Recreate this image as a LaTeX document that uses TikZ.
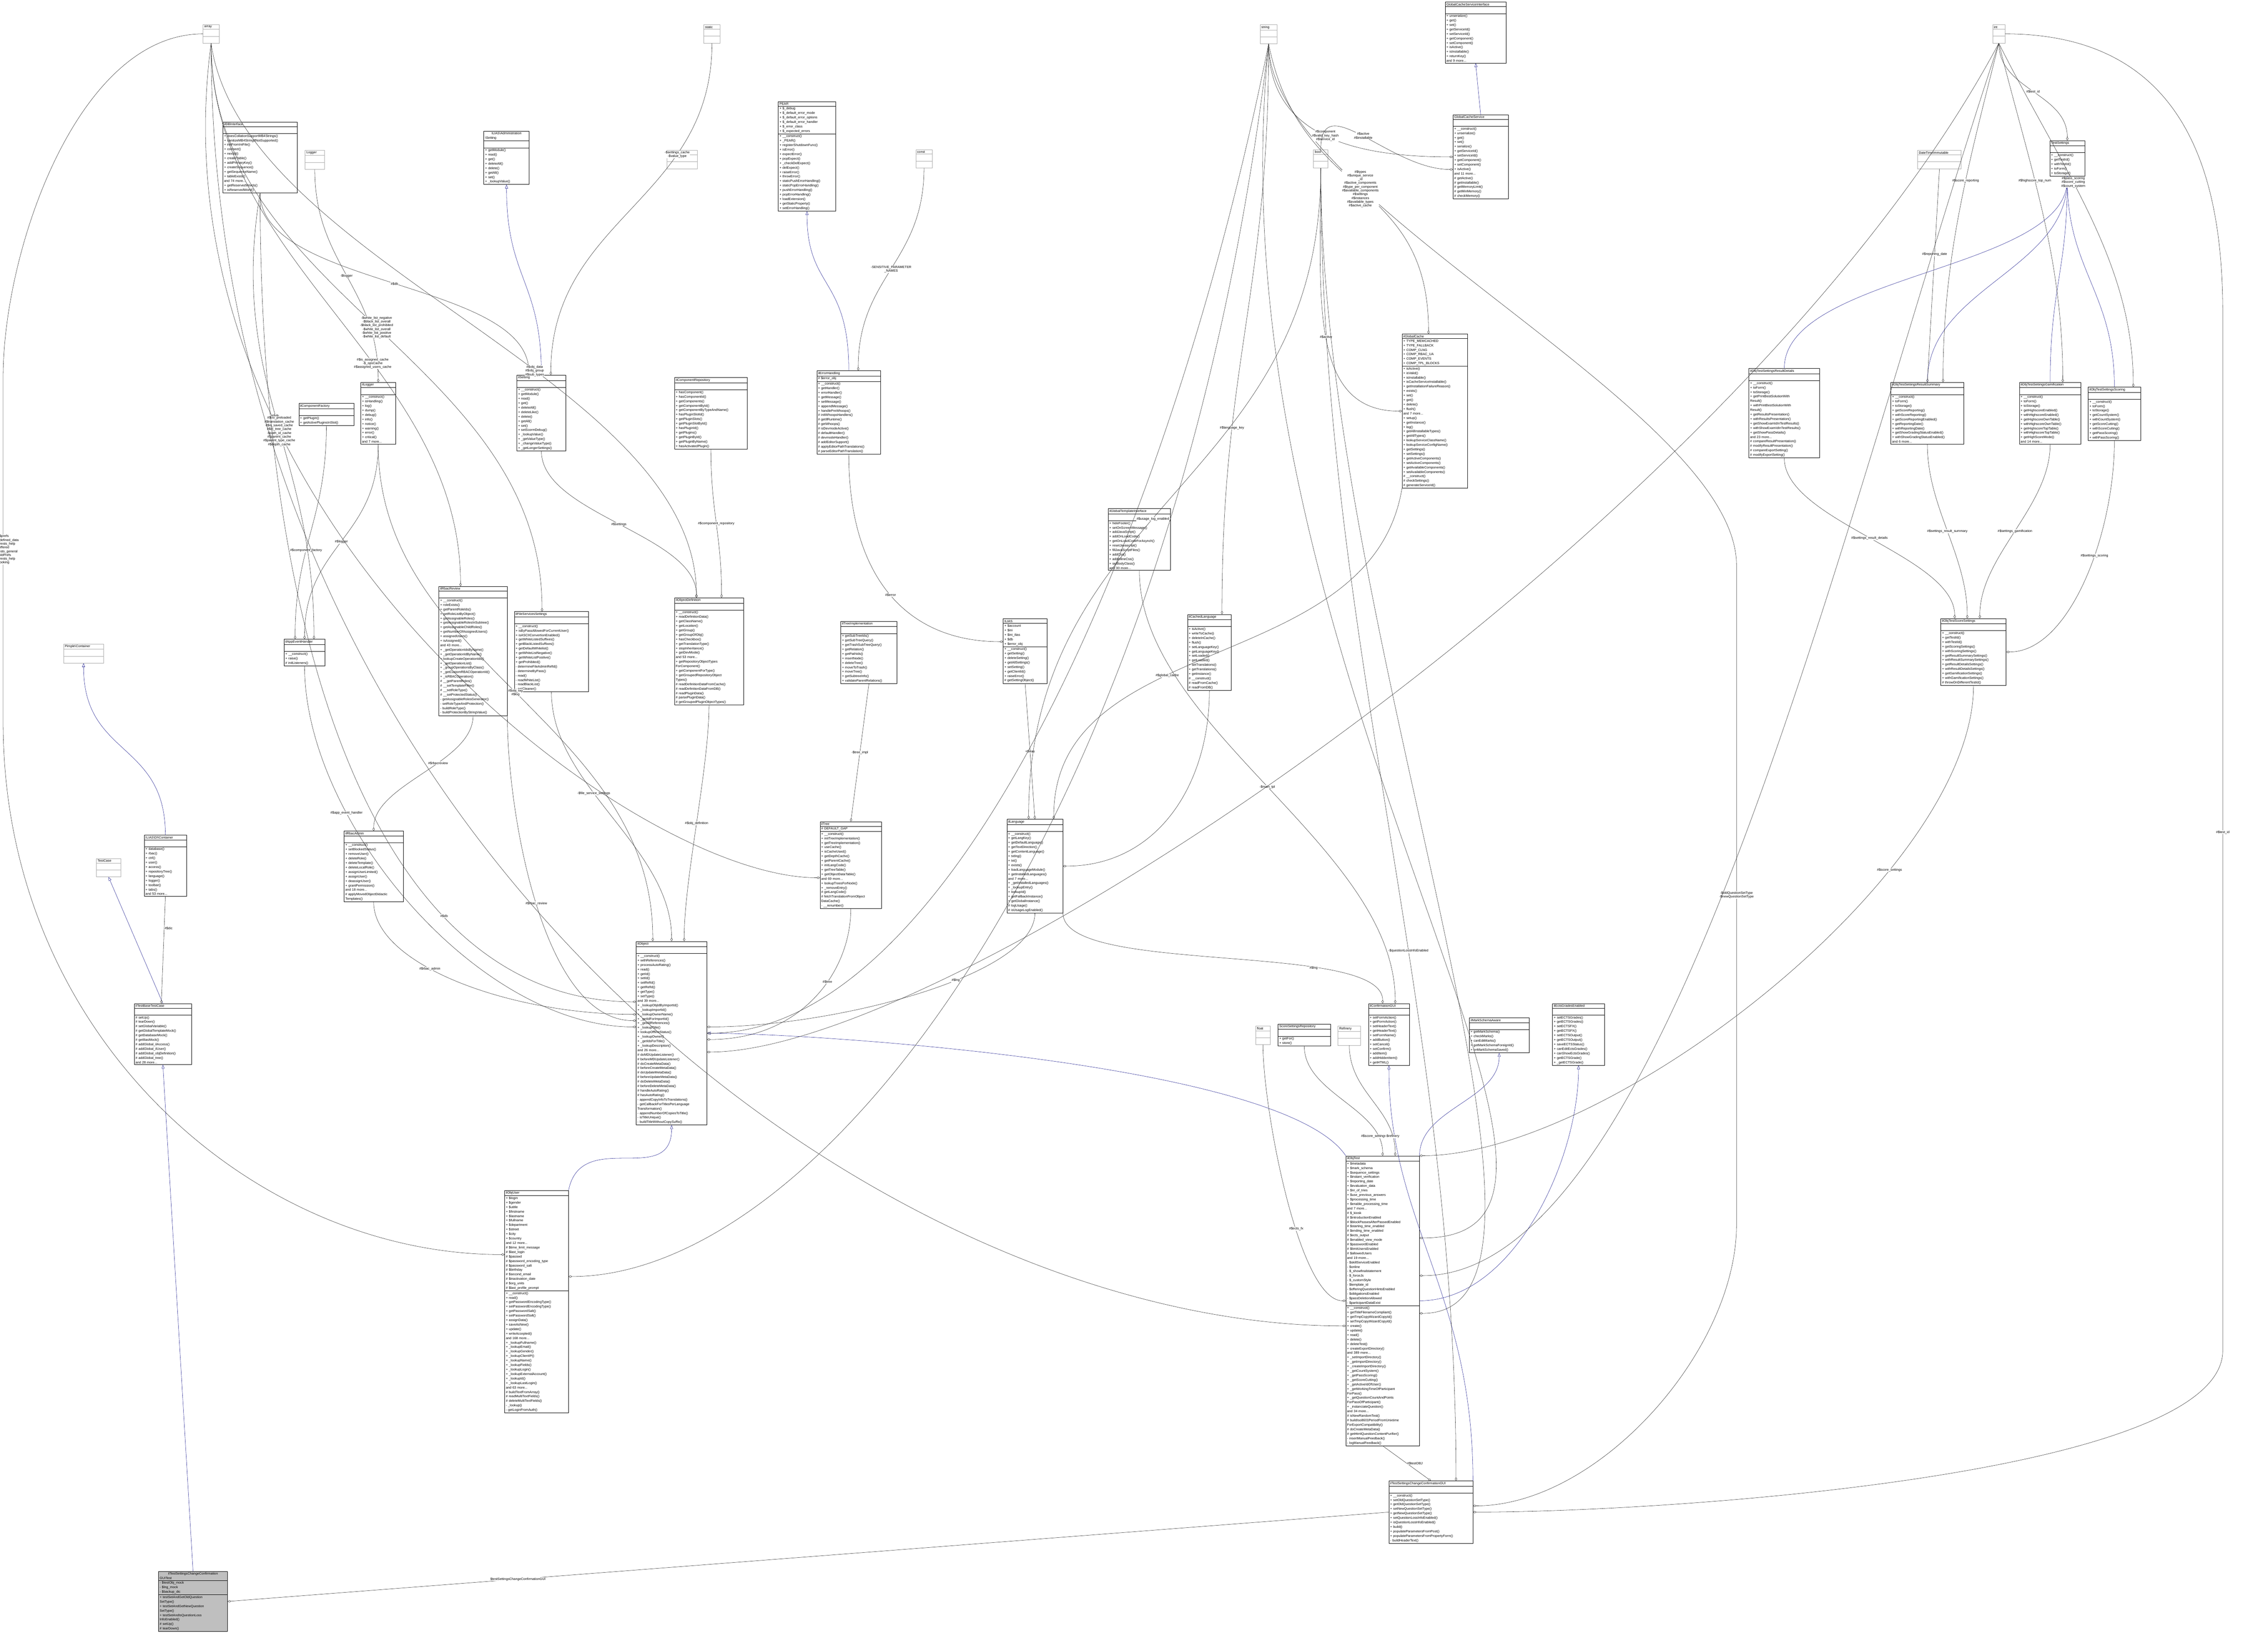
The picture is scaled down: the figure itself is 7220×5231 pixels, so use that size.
\documentclass[tikz,border=0pt]{standalone}
\usepackage{fontspec}
\setmainfont{Liberation Sans}
\usepackage{tikz}
\usetikzlibrary{shapes.multipart,arrows.meta}
\definecolor{inhblue}{RGB}{25,25,140}
\definecolor{leafgray}{RGB}{170,170,170}
\definecolor{focusgray}{RGB}{191,191,191}
\tikzset{
  cls/.style={draw=black, line width=1pt, rectangle split, rectangle split parts=3,
    anchor=north west, inner xsep=4pt, inner ysep=3pt, fill=white,
    font=\fontsize{10.5}{14.3}\selectfont},
  leaf/.style={cls, draw=leafgray},
  focus/.style={cls, fill=focusgray},
  use/.style={draw=black!85, line width=0.8pt, -{Diamond[open,length=11pt,width=7pt]}},
  inh/.style={draw=inhblue, line width=0.8pt, -{Triangle[open,length=12pt,width=9pt]}},
  lbl/.style={font=\fontsize{10.5}{12}\selectfont, align=center, fill=white, inner sep=1pt}
}
\newcommand{\emp}{\rule{0pt}{15pt}}
\begin{document}
\begin{tikzpicture}[x=1pt,y=1pt,yscale=-1,xscale=1]
\useasboundingbox (0,0) rectangle (7220,5231);

% Type nodes
\node[leaf, text width=43] (arr) at (646,78) {\centering array\nodepart{second}\emp\nodepart{third}\emp};
\node[leaf, text width=44] (stat) at (2240,78) {\centering static\nodepart{second}\emp\nodepart{third}\emp};
\node[leaf, text width=46] (str) at (4011,78) {\centering string\nodepart{second}\emp\nodepart{third}\emp};
\node[leaf, text width=31] (intt) at (6343,78) {\centering int\nodepart{second}\emp\nodepart{third}\emp};
\node[leaf, text width=44] (cnst) at (2915,476) {\centering const\nodepart{second}\emp\nodepart{third}\emp};
\node[leaf, text width=38] (boolt) at (4181,476) {\centering bool\nodepart{second}\emp\nodepart{third}\emp};
\node[leaf, text width=53] (lgr) at (971,478) {\centering Logger\nodepart{second}\emp\nodepart{third}\emp};
\node[leaf, text width=89] (runif) at (2122,478) {\centering RunInterface\nodepart{second}\emp\nodepart{third}\emp};
\node[leaf, text width=131] (dti) at (6104,478) {\centering DateTimeImmutable\nodepart{second}\emp\nodepart{third}\emp};
\node[leaf, text width=119] (pimple) at (202,2050) {\centering Pimple\textbackslash Container\nodepart{second}\emp\nodepart{third}\emp};
\node[leaf, text width=70] (tcase) at (306,2733) {\centering TestCase\nodepart{second}\emp\nodepart{third}\emp};
\node[leaf, text width=38] (flt) at (3997,3267) {\centering float\nodepart{second}\emp\nodepart{third}\emp};
\node[leaf, text width=64] (refin) at (4259,3267) {\centering Refinery\nodepart{second}\emp\nodepart{third}\emp};

% Class nodes, top rows
\node[cls, text width=229] (dbi) at (709,388) {\centering ilDBInterface\nodepart{second}\emp\nodepart{third}\raggedright
+ doesCollationSupportMB4Strings()\\+ sanitizeMB4StringIfNotSupported()\\+ initFromIniFile()\\+ connect()\\+ nextId()\\+ createTable()\\+ addPrimaryKey()\\+ createSequence()\\+ getSequenceName()\\+ tableExists()\\and 74 more...\\+ getReservedWords()\\+ isReservedWord()};
\node[cls, text width=136] (admset) at (1540,417) {\centering ILIAS\textbackslash Administration\\\textbackslash Setting\nodepart{second}\emp\nodepart{third}\raggedright
+ getModule()\\+ read()\\+ get()\\+ deleteAll()\\+ delete()\\+ getAll()\\+ set()\\+ \_lookupValue()};
\node[cls, text width=175] (pear) at (2477,323) {\centering PEAR\nodepart{second}\raggedright
+ \$\_debug\\+ \$\_default\_error\_mode\\+ \$\_default\_error\_options\\+ \$\_default\_error\_handler\\+ \$\_error\_class\\+ \$\_expected\_errors\nodepart{third}\raggedright
+ \_\_construct()\\+ \_PEAR()\\+ registerShutdownFunc()\\+ isError()\\+ expectError()\\+ popExpect()\\+ \_checkDelExpect()\\+ delExpect()\\+ raiseError()\\+ throwError()\\+ staticPushErrorHandling()\\+ staticPopErrorHandling()\\+ pushErrorHandling()\\+ popErrorHandling()\\+ loadExtension()\\+ getStaticProperty()\\+ setErrorHandling()};
\node[cls, text width=186] (gcsi) at (4600,6) {\centering GlobalCacheServiceInterface\nodepart{second}\emp\nodepart{third}\raggedright
+ unserialize()\\+ get()\\+ set()\\+ getServiceId()\\+ setServiceId()\\+ getComponent()\\+ setComponent()\\+ isActive()\\+ isInstallable()\\+ returnKey()\\and 9 more...};
\node[cls, text width=168] (gcs) at (4625,365) {\centering GlobalCacheService\nodepart{second}\emp\nodepart{third}\raggedright
+ \_\_construct()\\+ unserialize()\\+ get()\\+ set()\\+ serialize()\\+ getServiceId()\\+ setServiceId()\\+ getComponent()\\+ setComponent()\\+ isActive()\\and 11 more...\\\# getActive()\\\# getInstallable()\\\# getMemoryLimit()\\\# getMinMemory()\\\# checkMemory()};
\node[cls, text width=103] (tset) at (6525,447) {\centering TestSettings\nodepart{second}\emp\nodepart{third}\raggedright
+ \_\_construct()\\+ getTestId()\\+ withTestId()\\+ toForm()\\+ toStorage()};

\node[cls, text width=103] (illogger) at (1148,1217) {\centering ilLogger\nodepart{second}\emp\nodepart{third}\raggedright
+ \_\_construct()\\+ isHandling()\\+ log()\\+ dump()\\+ debug()\\+ info()\\+ notice()\\+ warning()\\+ error()\\+ critical()\\and 7 more...};
\node[cls, text width=167] (compfac) at (951,1284) {\centering ilComponentFactory\nodepart{second}\emp\nodepart{third}\raggedright
+ getPlugin()\\+ getActivePluginsInSlot()};
\node[cls, text width=148] (setting) at (1645,1194) {\centering ilSetting\nodepart{second}\emp\nodepart{third}\raggedright
+ \_\_construct()\\+ getModule()\\+ read()\\+ get()\\+ deleteAll()\\+ deleteLike()\\+ delete()\\+ getAll()\\+ set()\\+ setScormDebug()\\+ \_lookupValue()\\+ \_getValueType()\\+ \_changeValueType()\\+ \_getLongerSettings()};
\node[cls, text width=223] (comprepo) at (2147,1202) {\centering ilComponentRepository\nodepart{second}\emp\nodepart{third}\raggedright
+ hasComponent()\\+ hasComponentId()\\+ getComponents()\\+ getComponentById()\\+ getComponentByTypeAndName()\\+ hasPluginSlotId()\\+ getPluginSlots()\\+ getPluginSlotById()\\+ hasPluginId()\\+ getPlugins()\\+ getPluginById()\\+ getPluginByName()\\+ hasActivatedPlugin()};
\node[cls, text width=195] (errh) at (2600,1180) {\centering ilErrorHandling\nodepart{second}\raggedright \# \$error\_obj\nodepart{third}\raggedright
+ \_\_construct()\\+ getHandler()\\+ errorHandler()\\+ getMessage()\\+ setMessage()\\+ appendMessage()\\+ handlePreWhoops()\\\# initWhoopsHandlers()\\\# getIlRuntime()\\\# getWhoops()\\\# isDevmodeActive()\\\# defaultHandler()\\\# devmodeHandler()\\\# addEditorSupport()\\\# applyEditorPathTranslations()\\\# parseEditorPathTranslation()};
\node[cls, text width=191] (gtpl) at (3527,1619) {\centering ilGlobalTemplateInterface\nodepart{second}\emp\nodepart{third}\raggedright
+ hideFooter()\\+ setOnScreenMessage()\\+ addJavaScript()\\+ addOnLoadCode()\\+ getOnLoadCodeForAsynch()\\+ resetJavascript()\\+ fillJavaScriptFiles()\\+ addCss()\\+ addInlineCss()\\+ setBodyClass()\\and 30 more...};
\node[cls, text width=200] (gcache) at (4463,1063) {\centering ilGlobalCache\nodepart{second}\raggedright
+ TYPE\_MEMCACHED\\+ TYPE\_FALLBACK\\+ COMP\_CLNG\\+ COMP\_RBAC\_UA\\+ COMP\_EVENTS\\+ COMP\_TPL\_BLOCKS\nodepart{third}\raggedright
+ isActive()\\+ isValid()\\+ isInstallable()\\+ isCacheServiceInstallable()\\+ getInstallationFailureReason()\\+ exists()\\+ set()\\+ get()\\+ delete()\\+ flush()\\and 7 more...\\+ setup()\\+ getInstance()\\+ log()\\+ getAllInstallableTypes()\\+ getAllTypes()\\+ lookupServiceClassName()\\+ lookupServiceConfigName()\\+ getSettings()\\+ setSettings()\\+ getActiveComponents()\\+ setActiveComponents()\\+ getAvailableComponents()\\+ setAvailableComponents()\\\# \_\_construct()\\\# checkSettings()\\\# generateServiceId()};
\node[cls, text width=217] (resdet) at (5567,1173) {\centering ilObjTestSettingsResultDetails\nodepart{second}\emp\nodepart{third}\raggedright
+ \_\_construct()\\+ toForm()\\+ toStorage()\\+ getPrintBestSolutionWith\\Result()\\+ withPrintBestSolutionWith\\Result()\\+ getResultsPresentation()\\+ withResultsPresentation()\\+ getShowExamIdInTestResults()\\+ withShowExamIdInTestResults()\\+ getShowPassDetails()\\and 23 more...\\\# compareResultPresentation()\\\# modifyResultPresentation()\\\# compareExportSetting()\\\# modifyExportSetting()};
\node[cls, text width=224] (ressum) at (6019,1217) {\centering ilObjTestSettingsResultSummary\nodepart{second}\emp\nodepart{third}\raggedright
+ \_\_construct()\\+ toForm()\\+ toStorage()\\+ getScoreReporting()\\+ withScoreReporting()\\+ getScoreReportingEnabled()\\+ getReportingDate()\\+ withReportingDate()\\+ getShowGradingStatusEnabled()\\+ withShowGradingStatusEnabled()\\and 6 more...};
\node[cls, text width=188] (gamif) at (6428,1217) {\centering ilObjTestSettingsGamification\nodepart{second}\emp\nodepart{third}\raggedright
+ \_\_construct()\\+ toForm()\\+ toStorage()\\+ getHighscoreEnabled()\\+ withHighscoreEnabled()\\+ getHighscoreOwnTable()\\+ withHighscoreOwnTable()\\+ getHighscoreTopTable()\\+ withHighscoreTopTable()\\+ getHighScoreMode()\\and 14 more...};
\node[cls, text width=159] (scoring) at (6647,1232) {\centering ilObjTestSettingsScoring\nodepart{second}\emp\nodepart{third}\raggedright
+ \_\_construct()\\+ toForm()\\+ toStorage()\\+ getCountSystem()\\+ withCountSystem()\\+ getScoreCutting()\\+ withScoreCutting()\\+ getPassScoring()\\+ withPassScoring()};

% Middle rows
\node[cls, text width=122] (appev) at (904,2035) {\centering ilAppEventHandler\nodepart{second}\emp\nodepart{third}\raggedright
+ \_\_construct()\\+ raise()\\\# initListeners()};
\node[cls, text width=209] (rbacrev) at (1397,1867) {\centering ilRbacReview\nodepart{second}\emp\nodepart{third}\raggedright
+ \_\_construct()\\+ roleExists()\\+ getParentRoleIds()\\+ getRoleListByObject()\\+ getAssignableRoles()\\+ getAssignableRolesInSubtree()\\+ getAssignableChildRoles()\\+ getNumberOfAssignedUsers()\\+ assignedUsers()\\+ isAssigned()\\and 43 more...\\+ \_getOperationIdsByName()\\+ \_getOperationIdByName()\\+ lookupCreateOperationIds()\\+ \_getOperationList()\\+ \_groupOperationsByClass()\\+ \_getCustomRBACOperationId()\\+ \_isRBACOperation()\\\# \_\_getParentRoles()\\\# \_\_setTemplateFilter()\\\# \_\_setRoleType()\\\# \_\_setProtectedStatus()\\- getAssignableRolesGenerator()\\- setRoleTypeAndProtection()\\- buildRoleType()\\- buildProtectionByStringValue()};
\node[cls, text width=228] (filesrv) at (1637,1947) {\centering ilFileServicesSettings\nodepart{second}\emp\nodepart{third}\raggedright
+ \_\_construct()\\+ isByPassAllowedForCurrentUser()\\+ isASCIIConvertionEnabled()\\+ getWhiteListedSuffixes()\\+ getBlackListedSuffixes()\\+ getDefaultWhitelist()\\+ getWhiteListNegative()\\+ getWhiteListPositive()\\+ getProhibited()\\- determineFileAdminRefId()\\- determineByPass()\\- read()\\- readWhiteList()\\- readBlackList()\\- getCleaner()};
\node[cls, text width=211] (objdef) at (2147,1903) {\centering ilObjectDefinition\nodepart{second}\emp\nodepart{third}\raggedright
+ \_\_construct()\\+ readDefinitionData()\\+ getClassName()\\+ getLocation()\\+ getGroup()\\+ getGroupOfObj()\\+ hasCheckbox()\\+ getTranslationType()\\+ stopInheritance()\\+ getDevMode()\\and 53 more...\\+ getRepositoryObjectTypes\\ForComponent()\\+ getComponentForType()\\+ getGroupedRepositoryObject\\Types()\\\# readDefinitionDataFromCache()\\\# readDefinitionDataFromDB()\\\# readPluginData()\\\# parsePluginData()\\\# getGroupedPluginObjectTypes()};
\node[cls, text width=171] (treeimpl) at (2676,1978) {\centering ilTreeImplementation\nodepart{second}\emp\nodepart{third}\raggedright
+ getSubTreeIds()\\+ getSubTreeQuery()\\+ getTrashSubTreeQuery()\\+ getRelation()\\+ getPathIds()\\+ insertNode()\\+ deleteTree()\\+ moveToTrash()\\+ moveTree()\\+ getSubtreeInfo()\\+ validateParentRelations()};
\node[cls, text width=132] (ilias) at (3193,1970) {\centering ILIAS\nodepart{second}\raggedright
+ \$account\\+ \$ini\\+ \$ini\_ilias\\+ \$db\\+ \$error\_obj\nodepart{third}\raggedright
+ \_\_construct()\\+ getSetting()\\+ deleteSetting()\\+ getAllSettings()\\+ setSetting()\\+ getClientId()\\+ raiseError()\\\# getSettingObject()};
\node[cls, text width=131] (cachedlng) at (3780,1956) {\centering ilCachedLanguage\nodepart{second}\emp\nodepart{third}\raggedright
+ isActive()\\+ writeToCache()\\+ deleteInCache()\\+ flush()\\+ setLanguageKey()\\+ getLanguageKey()\\+ setLoaded()\\+ getLoaded()\\+ setTranslations()\\+ getTranslations()\\+ getInstance()\\\# \_\_construct()\\\# readFromCache()\\\# readFromDB()};
\node[cls, text width=200] (scoreset) at (6178,1969) {\centering ilObjTestScoreSettings\nodepart{second}\emp\nodepart{third}\raggedright
+ \_\_construct()\\+ getTestId()\\+ withTestId()\\+ getScoringSettings()\\+ withScoringSettings()\\+ getResultSummarySettings()\\+ withResultSummarySettings()\\+ getResultDetailsSettings()\\+ withResultDetailsSettings()\\+ getGamificationSettings()\\+ withGamificationSettings()\\\# throwOnDifferentTestId()};

\node[cls, text width=126] (dic) at (459,2659) {\centering ILIAS\textbackslash DI\textbackslash Container\nodepart{second}\emp\nodepart{third}\raggedright
+ database()\\+ rbac()\\+ ctrl()\\+ user()\\+ access()\\+ repositoryTree()\\+ language()\\+ logger()\\+ toolbar()\\+ tabs()\\and 53 more...};
\node[cls, text width=180] (rbacadm) at (1095,2646) {\centering ilRbacAdmin\nodepart{second}\emp\nodepart{third}\raggedright
+ \_\_construct()\\+ setBlockedStatus()\\+ removeUser()\\+ deleteRole()\\+ deleteTemplate()\\+ deleteLocalRole()\\+ assignUserLimited()\\+ assignUser()\\+ deassignUser()\\+ grantPermission()\\and 18 more...\\\# applyMovedObjectDidactic\\Templates()};
\node[cls, text width=188] (iltree) at (2610,2616) {\centering ilTree\nodepart{second}\raggedright \# DEFAULT\_GAP\nodepart{third}\raggedright
+ \_\_construct()\\+ initTreeImplementation()\\+ getTreeImplementation()\\+ useCache()\\+ isCacheUsed()\\+ getDepthCache()\\+ getParentCache()\\+ initLangCode()\\+ getTreeTable()\\+ getObjectDataTable()\\and 69 more...\\+ lookupTreesForNode()\\+ \_removeEntry()\\\# getLangCode()\\\# fetchTranslationFromObject\\DataCache()\\- \_\_renumber()};
\node[cls, text width=170] (illng) at (3205,2608) {\centering ilLanguage\nodepart{second}\emp\nodepart{third}\raggedright
+ \_\_construct()\\+ getLangKey()\\+ getDefaultLanguage()\\+ getTextDirection()\\+ getContentLanguage()\\+ txtlng()\\+ txt()\\+ exists()\\+ loadLanguageModule()\\+ getInstalledLanguages()\\and 7 more...\\+ \_getInstalledLanguages()\\+ \_lookupEntry()\\+ lookupId()\\+ getFallbackInstance()\\+ getGlobalInstance()\\\# logUsage()\\\# isUsageLogEnabled()};
\node[cls, text width=217] (ilobj) at (2025,2997) {\centering ilObject\nodepart{second}\emp\nodepart{third}\raggedright
+ \_\_construct()\\+ withReferences()\\+ processAutoRating()\\+ read()\\+ getId()\\+ setId()\\+ setRefId()\\+ getRefId()\\+ getType()\\+ setType()\\and 39 more...\\+ \_lookupObjIdByImportId()\\+ \_lookupImportId()\\+ \_lookupOwnerName()\\+ \_getIdForImportId()\\+ \_getAllReferences()\\+ \_lookupTitle()\\+ lookupOfflineStatus()\\+ \_lookupOwner()\\+ \_getIdsForTitle()\\+ \_lookupDescription()\\and 26 more...\\\# doMDUpdateListener()\\\# beforeMDUpdateListener()\\\# doCreateMetaData()\\\# beforeCreateMetaData()\\\# doUpdateMetaData()\\\# beforeUpdateMetaData()\\\# doDeleteMetaData()\\\# beforeDeleteMetaData()\\\# handleAutoRating()\\\# hasAutoRating()\\- appendCopyInfoToTranslations()\\- getCallbackForTitlesPerLanguage\\Transformation()\\- appendNumberOfCopiesToTitle()\\- isTitleUnique()\\- buildTitleWithoutCopySuffix()};
\node[cls, text width=174] (basetc) at (427,3195) {\centering ilTestBaseTestCase\nodepart{second}\emp\nodepart{third}\raggedright
\# setUp()\\\# tearDown()\\\# setGlobalVariable()\\\# getGlobalTemplateMock()\\\# getDatabaseMock()\\\# getIliasMock()\\\# addGlobal\_ilAccess()\\\# addGlobal\_ilUser()\\\# addGlobal\_objDefinition()\\\# addGlobal\_tree()\\and 28 more...};
\node[cls, text width=122] (confgui) at (4356,3195) {\centering ilConfirmationGUI\nodepart{second}\emp\nodepart{third}\raggedright
+ setFormAction()\\+ getFormAction()\\+ setHeaderText()\\+ getHeaderText()\\+ setFormName()\\+ addButton()\\+ setCancel()\\+ setConfirm()\\+ addItem()\\+ addHiddenItem()\\+ getHTML()};
\node[cls, text width=159] (ssrepo) at (4068,3260) {\centering ScoreSettingsRepository\nodepart{second}\emp\nodepart{third}\raggedright
+ getFor()\\+ store()};
\node[cls, text width=182] (markaware) at (4677,3241) {\centering ilMarkSchemaAware\nodepart{second}\emp\nodepart{third}\raggedright
+ getMarkSchema()\\+ checkMarks()\\+ canEditMarks()\\+ getMarkSchemaForeignId()\\+ onMarkSchemaSaved()};
\node[cls, text width=157] (ects) at (4942,3195) {\centering ilEctsGradesEnabled\nodepart{second}\emp\nodepart{third}\raggedright
+ setECTSGrades()\\+ getECTSGrades()\\+ setECTSFX()\\+ getECTSFX()\\+ setECTSOutput()\\+ getECTSOutput()\\+ saveECTSStatus()\\+ canEditEctsGrades()\\+ canShowEctsGrades()\\+ getECTSGrade()\\+ \_getECTSGrade()};

% Bottom rows
\node[cls, text width=195] (objuser) at (1606,3790) {\centering ilObjUser\nodepart{second}\raggedright
+ \$login\\+ \$gender\\+ \$utitle\\+ \$firstname\\+ \$lastname\\+ \$fullname\\+ \$department\\+ \$street\\+ \$city\\+ \$country\\and 12 more...\\\# \$time\_limit\_message\\\# \$last\_login\\\# \$passwd\\\# \$password\_encoding\_type\\\# \$password\_salt\\\# \$birthday\\\# \$second\_email\\\# \$inactivation\_date\\\# \$org\_units\\\# \$last\_profile\_prompt\nodepart{third}\raggedright
+ \_\_construct()\\+ read()\\+ getPasswordEncodingType()\\+ setPasswordEncodingType()\\+ getPasswordSalt()\\+ setPasswordSalt()\\+ assignData()\\+ saveAsNew()\\+ update()\\+ writeAccepted()\\and 168 more...\\+ \_lookupFullname()\\+ \_lookupEmail()\\+ \_lookupGender()\\+ \_lookupClientIP()\\+ \_lookupName()\\+ \_lookupFields()\\+ \_lookupLogin()\\+ \_lookupExternalAccount()\\+ \_lookupId()\\+ \_lookupLastLogin()\\and 63 more...\\\# buildTextFromArray()\\\# readMultiTextFields()\\\# deleteMultiTextFields()\\- \_lookup()\\- getLoginFromAuth()};
\node[cls, text width=226] (objtest) at (4284,3680) {\centering ilObjTest\nodepart{second}\raggedright
+ \$metadata\\+ \$mark\_schema\\+ \$sequence\_settings\\+ \$instant\_verification\\+ \$reporting\_date\\+ \$evaluation\_data\\+ \$nr\_of\_tries\\+ \$use\_previous\_answers\\+ \$processing\_time\\+ \$enable\_processing\_time\\and 7 more...\\\# \$\_kiosk\\\# \$introductionEnabled\\\# \$blockPassesAfterPassedEnabled\\\# \$starting\_time\_enabled\\\# \$ending\_time\_enabled\\\# \$ects\_output\\\# \$enabled\_view\_mode\\\# \$passwordEnabled\\\# \$limitUsersEnabled\\\# \$allowedUsers\\and 19 more...\\- \$skillServiceEnabled\\- \$online\\- \$\_showfinalstatement\\- \$\_forceJs\\- \$\_customStyle\\- \$template\_id\\- \$offeringQuestionHintsEnabled\\- \$obligationsEnabled\\- \$passDeletionAllowed\\- \$participantDataExist\nodepart{third}\raggedright
+ \_\_construct()\\+ getTitleFilenameCompliant()\\+ getTmpCopyWizardCopyId()\\+ setTmpCopyWizardCopyId()\\+ create()\\+ update()\\+ read()\\+ delete()\\+ deleteTest()\\+ createExportDirectory()\\and 389 more...\\+ \_setImportDirectory()\\+ \_getImportDirectory()\\+ \_createImportDirectory()\\+ \_getCountSystem()\\+ \_getPassScoring()\\+ \_getScoreCutting()\\+ \_getActiveIdOfUser()\\+ \_getWorkingTimeOfParticipant\\ForPass()\\+ \_getQuestionCountAndPoints\\ForPassOfParticipant()\\+ \_instanciateQuestion()\\and 34 more...\\\# isNewRandomTest()\\\# buildIso8601PeriodFromUnixtime\\ForExportCompatibility()\\\# doCreateMetaData()\\\# getHtmlQuestionContentPurifier()\\- insertManualFeedback()\\- logManualFeedback()};
\node[cls, text width=259] (chgui) at (4421,4715) {\centering ilTestSettingsChangeConfirmationGUI\nodepart{second}\emp\nodepart{third}\raggedright
+ \_\_construct()\\+ setOldQuestionSetType()\\+ getOldQuestionSetType()\\+ setNewQuestionSetType()\\+ getNewQuestionSetType()\\+ setQuestionLossInfoEnabled()\\+ isQuestionLossInfoEnabled()\\+ build()\\+ populateParametersFromPost()\\+ populateParametersFromPropertyForm()\\- buildHeaderText()};
\node[focus, text width=212] (chtest) at (504,5003) {\centering ilTestSettingsChangeConfirmation\\GUITest\nodepart{second}\raggedright
- \$testObj\_mock\\- \$lng\_mock\\- \$backup\_dic\nodepart{third}\raggedright
+ testSetAndGetOldQuestion\\SetType()\\+ testSetAndGetNewQuestion\\SetType()\\+ testSetAndIsQuestionLoss\\InfoEnabled()\\\# setUp()\\\# tearDown()};

% Inheritance
\draw[inh] (chtest.north) -- (basetc.south);
\draw[inh] (basetc.north) -- (tcase.south);
\draw[inh] (dic.north) .. controls +(0,-300) and +(0,300) .. (pimple.south);
\draw[inh] (setting.north) .. controls +(0,-300) and +(0,300) .. (admset.south);
\draw[inh] (errh.north) .. controls +(0,-300) and +(0,250) .. (pear.south);
\draw[inh] (gcs.north) -- (gcsi.south);
\foreach \c in {resdet,ressum,gamif,scoring}
  \draw[inh] (\c.north) .. controls +(0,-300) and +(0,300) .. (tset.south);
\draw[inh] (chgui.north east) .. controls +(0,-600) and +(0,500) .. (confgui.south);
\draw[inh] (objtest.north west) .. controls +(-200,-300) and +(300,0) .. (ilobj.east);
\draw[inh] (objtest.north east) .. controls +(0,-150) and +(0,150) .. (markaware.south);
\draw[inh] (objtest.east) .. controls +(300,0) and +(0,300) .. (ects.south);
\draw[inh] (objuser.north east) .. controls +(40,-200) and +(0,200) .. (ilobj.south);

% Usage
\draw[use] (objtest.south) -- node[lbl, right]{\#\$testOBJ} (chgui.north);
\draw[use] (chgui.west) -- node[lbl, pos=0.75]{\$testSettingsChangeConfirmationGUI} (chtest.east);
\draw[use] (scoreset.south) .. controls +(0,600) and +(600,0) .. node[lbl, pos=0.3]{\#\$score\_settings} (objtest.north east);
\draw[use] (ssrepo.south) .. controls +(0,150) and +(0,-150) .. node[lbl, pos=0.85]{\#\$score\_settings\_repo} (objtest.north);
\draw[use] (refin.south) .. controls +(0,150) and +(0,-150) .. node[lbl, pos=0.85]{-\$refinery} ([xshift=40]objtest.north);
\draw[use] (flt.south) .. controls +(0,200) and +(-150,0) .. node[lbl, pos=0.6]{\#\$ects\_fx} (objtest.west);
\draw[use] (resdet.south) .. controls +(0,200) and +(0,-200) .. node[lbl, pos=0.5]{\#\$settings\_result\_details} ([xshift=-60]scoreset.north);
\draw[use] (ressum.south) .. controls +(0,200) and +(0,-200) .. node[lbl, pos=0.5]{\#\$settings\_result\_summary} ([xshift=-20]scoreset.north);
\draw[use] (gamif.south) .. controls +(0,200) and +(0,-200) .. node[lbl, pos=0.5]{\#\$settings\_gamification} ([xshift=20]scoreset.north);
\draw[use] (scoring.south) .. controls +(0,300) and +(200,0) .. node[lbl, pos=0.4]{\#\$settings\_scoring} (scoreset.east);
\draw[use] (intt.south) .. controls +(0,150) and +(0,-150) .. node[lbl, pos=0.5]{\#\$test\_id} (tset.north);
\draw[use] (intt.south) .. controls +(200,400) and +(0,-400) .. node[lbl, pos=0.4]{\#\$pass\_scoring\\\#\$score\_cutting\\\#\$count\_system} ([xshift=60]scoring.north);
\draw[use] (intt.south) .. controls +(100,400) and +(0,-400) .. node[lbl, pos=0.4]{\#\$highscore\_top\_num} ([xshift=40]gamif.north);
\draw[use] (intt.south) .. controls +(-100,400) and +(0,-400) .. node[lbl, pos=0.4]{\#\$score\_reporting} ([xshift=50]ressum.north);
\draw[use] (intt.east) .. controls +(600,0) and +(0,-400) .. (7076,1000) -- node[lbl]{\#\$test\_id} (7076,4300) .. controls +(0,400) and +(600,0) .. (chgui.east);
\draw[use] (dti.south) -- node[lbl, pos=0.4]{\#\$reporting\_date} (ressum.north);
\draw[use] (dic.south) -- node[lbl, right, pos=0.3]{\#\$dic} ([xshift=-5]basetc.north);
\draw[use] (illng.south) .. controls +(0,200) and +(400,0) .. node[lbl, pos=0.4]{\#\$lng} ([yshift=-20]ilobj.east);
\draw[use] (iltree.south) .. controls +(0,200) and +(300,0) .. node[lbl, pos=0.4]{\#\$tree} ([yshift=20]ilobj.east);
\draw[use] (treeimpl.south) -- node[lbl]{-\$tree\_impl} (iltree.north);
\draw[use] (ilias.south) -- node[lbl]{+\$ilias} (illng.north);
\draw[use] (gcache.south west) .. controls +(-100,600) and +(0,-600) .. node[lbl, pos=0.6]{\#\$global\_cache} ([xshift=60]illng.north);
\draw[use] (cachedlng.south) .. controls +(0,300) and +(300,0) .. (illng.east);
\draw[use] (rbacrev.south) .. controls +(0,150) and +(0,-150) .. node[lbl, pos=0.4]{\#\$rbacreview} (rbacadm.north);
\draw[use] (rbacadm.south) .. controls +(0,200) and +(-400,0) .. node[lbl, pos=0.4]{\#\$rbac\_admin} ([yshift=-60]ilobj.west);
\draw[use] (rbacrev.south east) .. controls +(0,300) and +(-300,0) .. node[lbl, pos=0.5]{\#\$rbac\_review} ([yshift=-40]ilobj.west);
\draw[use] (objdef.south) .. controls +(0,200) and +(0,-200) .. node[lbl, pos=0.5]{\#\$obj\_definition} ([xshift=40]ilobj.north);
\draw[use] (appev.south) .. controls +(0,500) and +(-500,0) .. node[lbl, pos=0.3]{\#\$app\_event\_handler} ([yshift=-20]ilobj.west);
\draw[use] (filesrv.south) .. controls +(0,300) and +(0,-300) .. node[lbl, pos=0.4]{-\$file\_service\_settings} (ilobj.north);
\draw[use] (illogger.south) .. controls +(0,300) and +(0,-300) .. node[lbl, pos=0.5]{\#\$logger} (appev.north);
\draw[use] (compfac.south) .. controls +(0,300) and +(0,-300) .. node[lbl, pos=0.6]{\#\$component\_factory} ([xshift=-30]appev.north);
\draw[use] (comprepo.south) .. controls +(0,200) and +(0,-200) .. node[lbl, pos=0.5]{\#\$component\_repository} ([xshift=40]objdef.north);
\draw[use] (setting.south) .. controls +(0,200) and +(0,-200) .. node[lbl, pos=0.5]{\#\$settings} ([xshift=-40]objdef.north);
\draw[use] (dbi.south) .. controls +(0,300) and +(0,-300) .. node[lbl, pos=0.5]{\#\$db} ([xshift=-40]setting.north);
\draw[use] (dbi.south) .. controls +(-100,600) and +(0,-600) .. node[lbl, pos=0.5]{\#\$db} ([xshift=30]appev.north);
\draw[use] (lgr.south) .. controls +(0,300) and +(0,-300) .. node[lbl, pos=0.5]{-\$logger} (illogger.north);
\draw[use] (illogger.south) .. controls +(0,700) and +(0,-700) .. node[lbl, pos=0.5]{\#\$obj\_log\\\#\$log} ([xshift=-60]ilobj.north);
\draw[use] (str.south) .. controls +(0,500) and +(0,-500) .. (5528,1800) -- node[lbl]{-\$oldQuestionSetType\\-\$newQuestionSetType} (5528,3900) .. controls +(0,400) and +(400,0) .. ([yshift=-20]chgui.east);
\draw[use] (boolt.south) .. controls +(0,1500) and +(0,-1500) .. node[lbl, pos=0.6]{-\$questionLossInfoEnabled} ([xshift=80]chgui.north);
\draw[use] (gtpl.south) .. controls +(0,500) and +(0,-500) .. node[lbl, pos=0.5]{-\$main\_tpl} ([xshift=20]confgui.north);
\draw[use] (illng.south east) .. controls +(0,200) and +(0,-200) .. node[lbl, pos=0.7]{\#\$lng} ([xshift=-20]confgui.north);
\draw[use] (str.south) .. controls +(0,300) and +(-300,0) .. node[lbl, pos=0.5]{\#\$component\\\#\$valid\_key\_hash\\\#\$service\_id} (gcs.west);
\draw[use] (boolt.north) .. controls +(0,-200) and +(-200,0) .. node[lbl, pos=0.5]{\#\$active\\\#\$installable} ([yshift=40]gcs.west);
\draw[use] (str.south) .. controls +(100,500) and +(0,-500) .. node[lbl, pos=0.5]{\#\$types\\\#\$unique\_service\\\_id\\\#\$active\_components\\\#\$type\_per\_component\\\#\$available\_components\\\#\$settings\\\#\$instances\\\#\$available\_types\\\#\$active\_cache} ([xshift=-20]gcache.north);
\draw[use] (boolt.south) .. controls +(0,400) and +(-300,0) .. node[lbl, pos=0.5]{\#\$active} (gcache.west);
\draw[use] (cnst.south) .. controls +(0,300) and +(0,-300) .. node[lbl, pos=0.5]{-SENSITIVE\_PARAMETER\\\_NAMES} ([xshift=30]errh.north);
\draw[use] (stat.south) .. controls +(0,500) and +(0,-500) .. node[lbl, pos=0.3]{-\$settings\_cache\\-\$value\_type} ([xshift=30]setting.north);
\draw[use] (arr.south) .. controls +(0,800) and +(0,-800) .. node[lbl, pos=0.5]{-\$white\_list\_negative\\-\$black\_list\_overall\\-\$black\_list\_prohibited\\-\$white\_list\_overall\\-\$white\_list\_positive\\-\$white\_list\_default} ([xshift=-30]filesrv.north);
\draw[use] (arr.south) .. controls +(-200,1500) and +(-600,0) .. node[lbl, pos=0.3]{\#\$oo\_preloaded\\\#\$translation\_cache\\\#\$is\_saved\_cache\\\#\$in\_tree\_cache\\-\$path\_id\_cache\\\#\$parent\_cache\\\#\$parent\_type\_cache\\\#\$depth\_cache} ([yshift=40]iltree.west);
\draw[use] (arr.west) .. controls +(-400,0) and +(0,-400) .. (10,1200) -- node[lbl]{+\$prefs\\+\$user\_defined\_data\\\#\$interests\_help\\\_offered\\\#\$interests\_general\\\#\$oldPrefs\\\#\$interests\_help\\\_looking} (10,2300) .. controls +(0,1000) and +(-800,0) .. ([yshift=-150]objuser.west);
\draw[use] (arr.south) .. controls +(0,700) and +(0,-700) .. node[lbl, pos=0.6]{\#\$is\_assigned\_cache\\-\$\_opsCache\\\#\$assigned\_users\_cache} ([xshift=-40]rbacrev.north);
\draw[use] (arr.south) .. controls +(100,700) and +(0,-700) .. node[lbl, pos=0.6]{\#\$obj\_data\\\#\$obj\_group\\\#\$sub\_types} ([xshift=-40]objdef.north);
\draw[use] (str.south) .. controls +(0,800) and +(0,-800) .. node[lbl, pos=0.7]{\#\$language\_key} ([xshift=40]cachedlng.north);
\draw[use] (str.south) .. controls +(-300,1500) and +(800,0) .. (ilobj.east);
\draw[use] (intt.south) .. controls +(-500,1500) and +(800,0) .. ([yshift=-80]objtest.east);
\draw[use] (boolt.south) .. controls +(0,1500) and +(600,0) .. ([yshift=40]objtest.east);
\draw[use] (arr.south) .. controls +(0,2500) and +(-1500,0) .. ([yshift=80]objtest.west);
\draw[use] (str.south) .. controls +(-200,2000) and +(800,0) .. ([yshift=-200]objtest.east);
\draw[use] (intt.south) .. controls +(-800,1500) and +(800,0) .. ([yshift=60]ilobj.east);
\draw[use] (boolt.south) .. controls +(0,1000) and +(0,-1000) .. node[lbl, pos=0.55]{\#\$usage\_log\_enabled} ([xshift=-20]illng.north);
\draw[use] (str.south) .. controls +(-300,2500) and +(800,0) .. ([yshift=-80]objuser.east);
\draw[use] (dbi.south) .. controls +(0,1500) and +(-800,0) .. node[lbl, pos=0.7]{\#\$db} ([yshift=-100]ilobj.west);
\draw[use] (errh.south) .. controls +(0,400) and +(-300,0) .. node[lbl, pos=0.5]{\#\$error} ([yshift=-30]ilias.west);
\end{tikzpicture}
\end{document}
